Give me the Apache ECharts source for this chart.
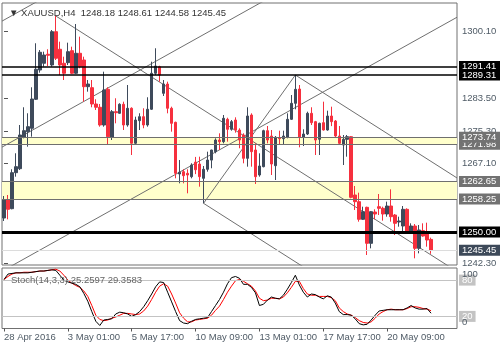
<!DOCTYPE html>
<html>
<head>
<meta charset="utf-8">
<script src="https://cdn.jsdelivr.net/npm/echarts@6/dist/echarts.min.js"></script>
<style>
html,body{margin:0;padding:0;background:#fff}
#chart{width:500px;height:350px}
</style>
</head>
<body>
<div id="chart"></div>
<script>
// XAUUSD H4 candles, oldest first
const opens = [
1253.53,1258.03,1255.86,1264.86,1265.86,1273.70,1275.11,1275.96,1283.21,1290.53,
1292.21,1294.46,1291.78,1300.11,1295.71,1292.21,1292.36,1295.36,1289.71,1294.71,
1293.03,1286.36,1286.11,1282.03,1281.21,1276.78,1285.71,1273.70,1280.11,1279.70,
1281.96,1276.78,1280.96,1272.21,1277.86,1278.86,1276.78,1280.71,1289.71,1291.36,
1284.70,1287.03,1280.96,1277.45,1264.53,1265.11,1264.70,1263.86,1267.50,1267.03,
1263.45,1265.70,1268.00,1270.11,1273.03,1272.61,1278.20,1275.70,1278.03,1275.53,
1274.28,1268.45,1279.28,1270.53,1264.28,1266.36,1275.36,1274.03,1266.61,1273.61,
1273.36,1273.70,1278.20,1282.20,1285.78,1273.70,1274.53,1279.70,1277.61,1273.20,
1277.36,1275.53,1279.03,1277.78,1274.03,1271.78,1273.20,1273.86,1259.28,1257.61,
1253.20,1256.20,1247.20,1255.03,1256.36,1255.95,1254.53,1256.53,1254.28,1252.53,
1251.53,1255.70,1250.11,1251.53,1245.95,1250.36,1250.11,1248.18];
const highs = [
1259.03,1259.28,1265.71,1269.71,1276.78,1281.21,1279.71,1286.21,1297.21,1295.53,
1295.11,1295.71,1300.53,1304.03,1297.61,1293.86,1297.36,1296.36,1302.03,1298.86,
1293.86,1288.03,1288.03,1283.21,1282.03,1290.11,1286.21,1280.53,1283.46,1282.21,
1282.61,1286.78,1281.20,1278.86,1279.71,1280.96,1283.71,1292.61,1295.96,1291.60,
1288.03,1287.61,1281.36,1277.61,1268.03,1265.71,1265.71,1267.21,1268.80,1268.86,
1266.53,1270.11,1270.60,1273.45,1274.70,1279.28,1278.60,1278.03,1278.70,1275.96,
1274.70,1281.21,1279.70,1272.20,1269.70,1275.60,1276.53,1275.53,1274.03,1275.36,
1275.36,1279.70,1284.28,1289.28,1286.78,1275.70,1280.11,1281.21,1277.80,1277.36,
1282.61,1280.36,1281.36,1278.03,1276.53,1274.28,1274.28,1274.03,1261.53,1259.86,
1256.36,1256.36,1255.28,1255.70,1259.53,1256.36,1257.61,1260.70,1254.53,1253.86,
1256.53,1255.95,1252.20,1252.03,1251.78,1252.20,1252.36,1248.61];
const lows = [
1252.78,1253.20,1255.70,1263.86,1265.53,1273.45,1271.36,1273.86,1283.03,1289.86,
1291.36,1291.53,1291.36,1293.03,1289.28,1288.03,1291.78,1289.53,1289.53,1290.96,
1282.61,1285.11,1281.21,1280.53,1276.36,1276.36,1271.78,1273.03,1277.20,1279.60,
1275.53,1276.36,1269.28,1271.78,1275.53,1275.96,1276.36,1280.53,1289.28,1287.61,
1284.03,1279.70,1275.11,1263.45,1262.20,1262.20,1259.70,1263.45,1264.50,1261.36,
1257.20,1265.11,1265.96,1269.70,1270.53,1272.20,1272.61,1275.36,1274.86,1270.96,
1267.20,1266.36,1266.36,1262.03,1263.86,1266.20,1272.20,1264.28,1263.03,1271.78,
1271.78,1273.45,1278.03,1280.70,1271.20,1271.53,1274.28,1276.78,1269.28,1269.28,
1275.40,1275.36,1276.50,1273.70,1271.78,1266.78,1268.86,1258.45,1255.53,1252.61,
1253.03,1244.28,1245.95,1253.20,1254.28,1252.86,1253.86,1252.61,1249.28,1251.36,
1250.11,1249.86,1249.70,1243.45,1244.70,1248.86,1246.36,1244.58];
const closes = [
1258.03,1255.70,1264.86,1266.36,1274.28,1275.36,1276.36,1283.28,1290.71,1294.96,
1294.28,1294.21,1300.11,1293.46,1291.78,1289.71,1295.11,1289.71,1294.71,1291.36,
1286.36,1287.03,1282.03,1281.21,1276.78,1285.53,1273.86,1280.11,1279.86,1281.96,
1276.78,1280.96,1272.21,1278.03,1278.86,1276.78,1280.71,1289.71,1291.53,1289.28,
1287.03,1280.96,1277.20,1264.70,1264.96,1264.11,1264.28,1266.78,1265.60,1263.86,
1265.70,1268.03,1270.53,1273.03,1272.61,1278.45,1275.70,1277.61,1275.53,1273.03,
1268.45,1279.03,1270.11,1263.86,1266.53,1275.36,1273.03,1267.03,1273.70,1273.36,
1274.03,1278.20,1282.20,1285.70,1273.70,1274.53,1279.70,1277.36,1273.03,1277.20,
1275.53,1279.03,1277.61,1274.03,1272.20,1273.20,1273.86,1258.70,1257.61,1253.20,
1255.11,1247.20,1255.11,1254.53,1255.95,1254.53,1256.53,1253.86,1252.20,1252.78,
1255.70,1250.11,1251.53,1245.95,1250.53,1249.03,1248.03,1245.45];

// Stochastic(14,3,3): main (%K) and signal (%D)
const stochK = [
81,90,91,92,92,92,92,93,94,95,
95,96,97,96,88,80,77,75,73,69,
58,45,28,12,5,14,15,16,24,27,
26,24,20,23,28,36,46,57,69,77,
76,60,44,28,13,9,8,12,15,16,
17,18,28,38,48,60,74,84,86,83,
73,73,68,59,38,40,47,52,50,49,
55,65,76,88,72,60,52,57,56,52,
49,54,52,42,28,23,23,22,16,8,
6,7,14,22,29,30,31,31,31,31,
31,34,38,34,32,32,33,25.2597];
const stochD = [
81,86,90,92,92,93,93,93,94,95,
95,96,97,98,95,88,80,75,71,68,
62,53,38,22,15,13,14,17,19,22,
25,25,24,23,24,29,37,48,60,70,
74,70,57,42,26,17,11,11,14,15,
16,17,22,30,37,48,60,70,79,81,
78,74,70,62,50,46,47,50,50,49,
52,59,68,78,78,66,57,55,55,53,
53,53,51,46,34,28,24,22,18,13,
10,9,11,17,24,28,31,32,31,31,
31,33,36,36,35,33,32,29.3583];

const symbolName = 'XAUUSD,H4';
const timeLabels = ['28 Apr 2016','3 May 01:00','5 May 17:00','10 May 09:00','13 May 01:00','17 May 17:00','20 May 09:00'];
const barsPerLabel = 16;
const slotCount = 114;              // bar slots across the window (right side left empty)
const priceTicks = [1300.10, 1283.50, 1275.30, 1267.10, 1242.30];
const priceRange = [1241.78, 1307.28];
const resistanceLines = [1291.41, 1289.31];
const pivotLevel = 1250.00;
const zones = [[1273.74, 1271.98], [1262.65, 1258.25]];
const stochLevels = [80, 20];
const stochScale = [0, 100];

// drawn analysis lines, in (bar index, price)
const rayAnchors = [[13, 1304.03], [73, 1289.28], [50, 1257.20]];
const raySlope = -0.6356;           // price per bar
const channelStarts = [1303.03, 1271.53, 1240.50]; // price at bar 0
const channelSlope = 0.557;
const swingLeg = [[50, 1257.20], [73, 1289.28]];

const FONT = 'Liberation Sans';
const AXIS_TEXT = '#4f5b66';
const LINE_GRAY = '#6f6f6f';
const last = closes.length - 1;
const fmt2 = v => v.toFixed(2);

const slots = Array.from({length: slotCount}, (_, i) => String(i));
const showTimeLabel = idx => idx % barsPerLabel === 0 && idx / barsPerLabel < timeLabels.length;

const candleData = opens.map((o, i) => [o, closes[i], lows[i], highs[i]]);

const xEnd = slotCount - 0.5;
const trendSeries = [];
rayAnchors.forEach(([x0, y0]) => {
  trendSeries.push([[x0, y0], [xEnd, y0 + raySlope * (xEnd - x0)]]);
});
channelStarts.forEach(y0 => {
  trendSeries.push([[-0.5, y0 - channelSlope * 0.5], [xEnd, y0 + channelSlope * xEnd]]);
});
trendSeries.push(swingLeg);

function levelLine(value, color, width, bg, text) {
  return {
    yAxis: value,
    lineStyle: {color: color, width: width, type: 'solid'},
    label: {
      show: true, position: 'end', distance: 2,
      formatter: () => text,
      color: '#fff', backgroundColor: bg,
      fontFamily: FONT, fontSize: 9.5,
      padding: [1, 8, 0, 3]
    }
  };
}

const levelData = [];
zones.forEach(z => {
  levelData.push(levelLine(z[1], LINE_GRAY, 1, '#727272', fmt2(z[1])));
  levelData.push(levelLine(z[0], LINE_GRAY, 1, '#727272', fmt2(z[0])));
});
resistanceLines.slice().reverse().forEach(v => levelData.push(levelLine(v, '#000', 1.5, '#000', fmt2(v))));
levelData.push(levelLine(closes[last], '#dcdcdc', 1, '#3d4959', fmt2(closes[last])));
levelData.push(levelLine(pivotLevel, '#000', 3, '#000', fmt2(pivotLevel)));

// oscillator scale labels, tucked just inside the panel's top and bottom
const stochScaleData = stochScale.map(v => ({
  yAxis: v,
  lineStyle: {color: 'rgba(0,0,0,0)', width: 1, type: 'solid'},
  label: {
    show: true, position: 'end', distance: 5,
    formatter: String(v), color: AXIS_TEXT, fontFamily: FONT, fontSize: 9.5,
    offset: [0, v === stochScale[1] ? 6 : -6]
  }
}));
const stochLevelData = stochLevels.map(v => ({
  yAxis: v,
  lineStyle: {color: '#c3c3c3', width: 1, type: 'solid'},
  label: {show: true, position: 'end', distance: 2, formatter: String(v), color: '#fff',
          backgroundColor: '#c3c3c3', fontFamily: FONT, fontSize: 9.5, padding: [1, 3, 0, 3]}
}));

const chart = echarts.init(document.getElementById('chart'), null, {renderer: 'canvas'});
chart.setOption({
  animation: false,
  backgroundColor: '#fff',
  textStyle: {fontFamily: FONT},
  title: [
    {
      left: 4, top: 3,
      text: '\u25BC ' + symbolName + '  ' + [opens[last], highs[last], lows[last], closes[last]].map(fmt2).join(' '),
      textStyle: {fontFamily: FONT, fontSize: 9.5, fontWeight: 'normal', color: '#333'}
    },
    {
      left: 6, top: 270,
      text: 'Stoch(14,3,3) ' + stochK[last].toFixed(4) + ' ' + stochD[last].toFixed(4),
      textStyle: {fontFamily: FONT, fontSize: 9.5, fontWeight: 'normal', color: '#666'}
    }
  ],
  grid: [
    {left: 2, right: 43, top: 3, height: 262, show: true, borderColor: '#707070', borderWidth: 1, backgroundColor: '#fff'},
    {left: 2, right: 43, top: 268, height: 60.5, show: true, borderColor: '#707070', borderWidth: 1, backgroundColor: '#fff'}
  ],
  xAxis: [
    {gridIndex: 0, type: 'category', data: slots, boundaryGap: true, show: false},
    {gridIndex: 0, type: 'value', min: -0.5, max: xEnd, show: false},
    {
      gridIndex: 1, type: 'category', data: slots, boundaryGap: true,
      axisLine: {show: false},
      axisTick: {show: true, interval: showTimeLabel, alignWithLabel: true, length: 3, lineStyle: {color: '#555'}},
      axisLabel: {
        interval: showTimeLabel, align: 'left', margin: 4,
        formatter: (v, idx) => timeLabels[idx / barsPerLabel] || '',
        color: AXIS_TEXT, fontFamily: FONT, fontSize: 9.5
      }
    }
  ],
  yAxis: [
    {
      gridIndex: 0, type: 'value', position: 'right',
      min: priceRange[0], max: priceRange[1],
      splitLine: {show: false}, axisLine: {show: false},
      axisTick: {show: true, customValues: priceTicks, length: 4, lineStyle: {color: '#555'}},
      axisLabel: {customValues: priceTicks, formatter: v => fmt2(v), margin: 5, color: AXIS_TEXT, fontFamily: FONT, fontSize: 9.5}
    },
    {
      gridIndex: 1, type: 'value', position: 'right', min: stochScale[0], max: stochScale[1],
      splitLine: {show: false}, axisLine: {show: false},
      axisTick: {show: false}, axisLabel: {show: false}
    }
  ],
  series: [
    {
      name: 'zones', type: 'line', xAxisIndex: 0, yAxisIndex: 0, data: [], z: 1, silent: true,
      markArea: {
        silent: true,
        itemStyle: {color: '#ffffcc'},
        data: zones.map(z => [{yAxis: z[0]}, {yAxis: z[1]}])
      }
    },
    ...trendSeries.map(pts => ({
      type: 'line', xAxisIndex: 1, yAxisIndex: 0, data: pts, z: 2,
      showSymbol: false, symbol: 'none', silent: true, clip: true,
      lineStyle: {color: LINE_GRAY, width: 1}
    })),
    {
      name: symbolName, type: 'candlestick', xAxisIndex: 0, yAxisIndex: 0,
      data: candleData, barWidth: 3, z: 3,
      itemStyle: {color: '#3e4a5b', color0: '#f6303e', borderColor: '#3e4a5b', borderColor0: '#f6303e', borderWidth: 1}
    },
    {
      name: 'levels', type: 'line', xAxisIndex: 0, yAxisIndex: 0, data: [], z: 4, silent: true,
      markLine: {silent: true, symbol: ['none', 'none'], data: levelData}
    },
    {
      name: 'stochLevels', type: 'line', xAxisIndex: 2, yAxisIndex: 1, data: [], z: 1, silent: true,
      markLine: {silent: true, symbol: ['none', 'none'], data: stochLevelData.concat(stochScaleData)}
    },
    {
      name: '%K', type: 'line', xAxisIndex: 2, yAxisIndex: 1, data: stochK, z: 3,
      showSymbol: false, symbol: 'none', lineStyle: {color: '#000', width: 1}
    },
    {
      name: '%D', type: 'line', xAxisIndex: 2, yAxisIndex: 1, data: stochD, z: 2,
      showSymbol: false, symbol: 'none', lineStyle: {color: '#ff0000', width: 1}
    }
  ]
});
</script>
</body>
</html>
